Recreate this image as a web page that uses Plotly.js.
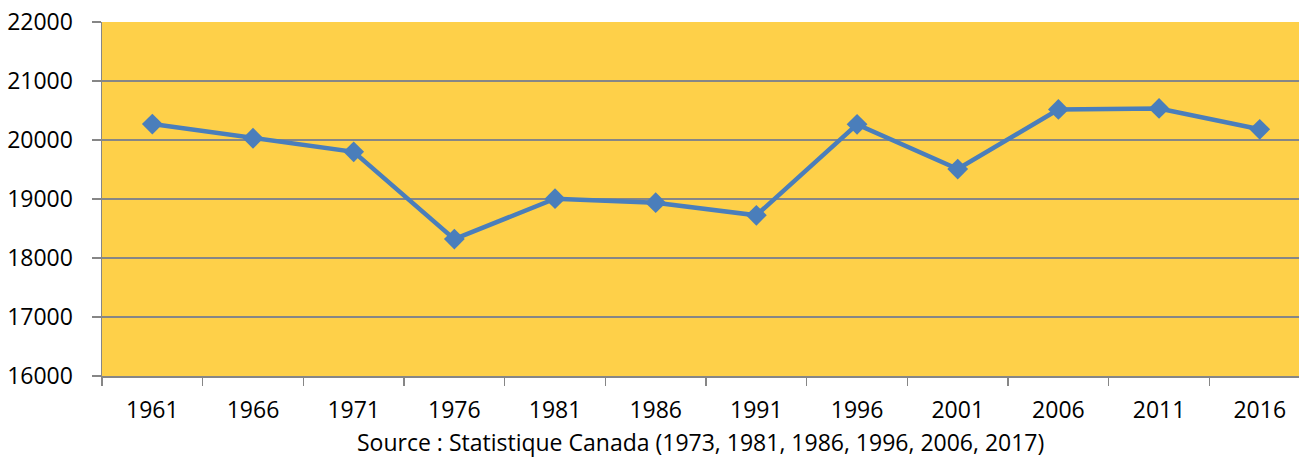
<!DOCTYPE html>
<html>
<head>
<meta charset="utf-8">
<script src="https://cdn.plot.ly/plotly-3.0.1.min.js"></script>
<style>html,body{margin:0;padding:0;background:#fff;}#chart{width:1299px;height:458px;}</style>
</head>
<body>
<div id="chart"></div>
<script>
const years = ["1961","1966","1971","1976","1981","1986","1991","1996","2001","2006","2011","2016"];
const population = [20270, 20030, 19800, 18320, 19005, 18937, 18724, 20265, 19508, 20518, 20535, 20181];
const yTicks = [16000, 17000, 18000, 19000, 20000, 21000, 22000];
const sourceText = "Source : Statistique Canada (1973, 1981, 1986, 1996, 2006, 2017)";

const trace = {
  x: years,
  y: population,
  type: "scatter",
  mode: "lines+markers",
  line: {color: "#4A7EBB", width: 4.5},
  marker: {symbol: "diamond", size: 16, color: "#4A7EBB"},
  hoverinfo: "x+y"
};

const layout = {
  width: 1299,
  height: 458,
  margin: {l: 102, r: 0, t: 22, b: 82},
  paper_bgcolor: "#ffffff",
  plot_bgcolor: "#FED049",
  showlegend: false,
  font: {family: "Open Sans, sans-serif", size: 23, color: "#000"},
  xaxis: {
    type: "category",
    range: [-0.5, 11.39],
    showgrid: false,
    zeroline: false,
    showline: true,
    linecolor: "#868686",
    linewidth: 1.5,
    ticks: "outside",
    tickson: "boundaries",
    ticklen: 8,
    tickcolor: "#868686",
    tickwidth: 1.5,
    ticklabelstandoff: 13,
    tickfont: {family: "Open Sans, sans-serif", size: 23, color: "#000"}
  },
  yaxis: {
    range: [16000, 22000],
    tickvals: yTicks,
    ticktext: yTicks.map(String),
    showgrid: true,
    gridcolor: "#868686",
    gridwidth: 1.5,
    zeroline: false,
    showline: true,
    linecolor: "#868686",
    linewidth: 1.5,
    ticks: "outside",
    ticklen: 9,
    tickcolor: "#868686",
    tickwidth: 1.5,
    ticklabelstandoff: 14,
    tickfont: {family: "Open Sans, sans-serif", size: 23, color: "#000"}
  },
  annotations: [{
    text: sourceText,
    xref: "paper", yref: "paper",
    x: 0.5, y: -0.186,
    xanchor: "center", yanchor: "middle",
    showarrow: false,
    font: {family: "Open Sans, sans-serif", size: 23, color: "#000"}
  }]
};

Plotly.newPlot("chart", [trace], layout, {displayModeBar: false, staticPlot: true});
</script>
</body>
</html>
